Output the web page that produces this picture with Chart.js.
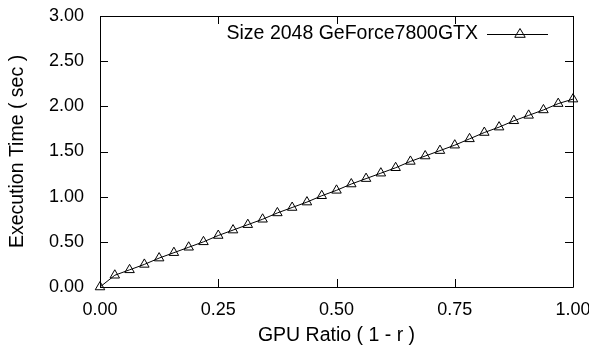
<!DOCTYPE html>
<html>
<head>
<meta charset="utf-8">
<script src="https://cdn.jsdelivr.net/npm/chart.js@4.4.0/dist/chart.umd.min.js"></script>
<style>
  html, body { margin: 0; padding: 0; background: #fff; }
  #wrap { width: 589px; height: 349px; }
</style>
</head>
<body>
<div id="wrap"><canvas id="chart" width="589" height="349"></canvas></div>
<script>
// Data
const seriesLabel = 'Size 2048 GeForce7800GTX';
const gpuRatio = [
  0, 1/32, 2/32, 3/32, 4/32, 5/32, 6/32, 7/32, 8/32, 9/32, 10/32,
  11/32, 12/32, 13/32, 14/32, 15/32, 16/32, 17/32, 18/32, 19/32, 20/32,
  21/32, 22/32, 23/32, 24/32, 25/32, 26/32, 27/32, 28/32, 29/32, 30/32,
  31/32, 1
];
const execTime = [
  0.00, 0.13, 0.19, 0.25, 0.32, 0.38, 0.44, 0.50, 0.57, 0.63, 0.69,
  0.75, 0.82, 0.88, 0.94, 1.01, 1.07, 1.14, 1.20, 1.26, 1.32,
  1.39, 1.45, 1.51, 1.57, 1.64, 1.71, 1.77, 1.84, 1.90, 1.96,
  2.03, 2.08
];
const xTicks = [0, 0.25, 0.5, 0.75, 1];
const yTicks = [0, 0.5, 1, 1.5, 2, 2.5, 3];

const FONT = 'Liberation Sans, Arial, Helvetica, sans-serif';

// gnuplot-style frame, inward mirrored ticks and legend
const framePlugin = {
  id: 'frame',
  afterDraw(chart) {
    const { ctx, chartArea: a, scales } = chart;
    const tl = 8;
    ctx.save();
    ctx.strokeStyle = '#000';
    ctx.lineWidth = 1;
    ctx.beginPath();
    ctx.rect(a.left + 0.5, a.top + 0.5, a.right - a.left, a.bottom - a.top);
    xTicks.forEach(v => {
      const x = Math.round(scales.x.getPixelForValue(v)) + 0.5;
      ctx.moveTo(x, a.bottom); ctx.lineTo(x, a.bottom - tl);
      ctx.moveTo(x, a.top); ctx.lineTo(x, a.top + tl);
    });
    yTicks.forEach(v => {
      const y = Math.round(scales.y.getPixelForValue(v)) + 0.5;
      ctx.moveTo(a.left, y); ctx.lineTo(a.left + tl, y);
      ctx.moveTo(a.right, y); ctx.lineTo(a.right - tl, y);
    });
    ctx.stroke();

    // legend
    ctx.font = '19.5px ' + FONT;
    ctx.fillStyle = '#000';
    ctx.textAlign = 'right';
    ctx.textBaseline = 'middle';
    const ly = 34;
    ctx.fillText(seriesLabel, 478, ly);
    ctx.beginPath();
    ctx.moveTo(487, ly + 0.5); ctx.lineTo(548, ly + 0.5);
    ctx.stroke();
    // legend marker
    const mx = 520, r = 5.5;
    ctx.beginPath();
    ctx.moveTo(mx, ly - r);
    ctx.lineTo(mx + r * 0.95, ly + r * 0.6);
    ctx.lineTo(mx - r * 0.95, ly + r * 0.6);
    ctx.closePath();
    ctx.stroke();
    ctx.restore();
  }
};

new Chart(document.getElementById('chart'), {
  type: 'scatter',
  data: {
    datasets: [{
      label: seriesLabel,
      data: gpuRatio.map((x, i) => ({ x, y: execTime[i] })),
      showLine: true,
      borderColor: '#000',
      borderWidth: 1,
      pointStyle: 'triangle',
      pointRadius: 5.5,
      pointBorderWidth: 1,
      pointBorderColor: '#000',
      pointBackgroundColor: 'rgba(0,0,0,0)',
      clip: false
    }]
  },
  options: {
    responsive: false,
    animation: false,
    layout: { padding: { top: 16, right: 16, left: 0, bottom: 0 } },
    plugins: { legend: { display: false }, tooltip: { enabled: false } },
    scales: {
      x: {
        type: 'linear',
        min: 0, max: 1,
        afterFit(s) { s.height = 62; s.paddingLeft = 0; s.paddingRight = 0; },
        afterBuildTicks(s) { s.ticks = xTicks.map(v => ({ value: v })); },
        grid: { display: false },
        border: { display: false },
        ticks: {
          color: '#000',
          font: { family: FONT, size: 18 },
          padding: 4,
          maxRotation: 0,
          callback: v => v.toFixed(2)
        },
        title: {
          display: true,
          text: 'GPU Ratio ( 1 - r )',
          color: '#000',
          font: { family: FONT, size: 19.5, lineHeight: 1 },
          padding: { top: 0, bottom: 4 }
        }
      },
      y: {
        type: 'linear',
        min: 0, max: 3,
        afterFit(s) { s.width = 100; s.paddingTop = 0; s.paddingBottom = 0; },
        afterBuildTicks(s) { s.ticks = yTicks.map(v => ({ value: v })); },
        grid: { display: false },
        border: { display: false },
        ticks: {
          color: '#000',
          font: { family: FONT, size: 18 },
          padding: 8,
          callback: v => v.toFixed(2)
        },
        title: {
          display: true,
          text: 'Execution Time ( sec )',
          color: '#000',
          font: { family: FONT, size: 19.5, lineHeight: 1 },
          padding: { top: 8, bottom: 0 }
        }
      }
    }
  },
  plugins: [framePlugin]
});
</script>
</body>
</html>
